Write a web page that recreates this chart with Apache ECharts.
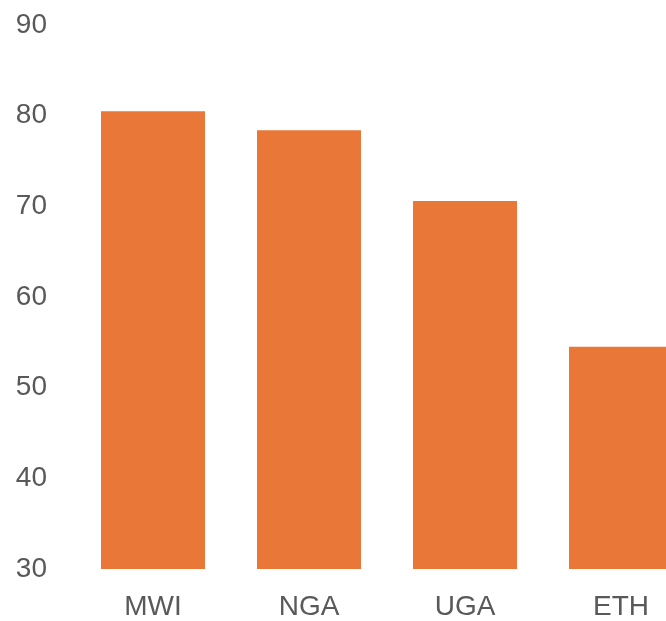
<!DOCTYPE html>
<html>
<head>
<meta charset="utf-8">
<script src="https://cdn.jsdelivr.net/npm/echarts@6/dist/echarts.min.js"></script>
<style>
html,body{margin:0;padding:0;background:#fff;overflow:hidden;}
/* 图表比窗口宽，最后一根柱子被窗口右边截掉 */
#chart{width:699px;height:621px;}
</style>
</head>
<body>
<div id="chart"></div>
<script>
// 国家代码
var countries = ['MWI', 'NGA', 'UGA', 'ETH'];
// 数值
var values = [80.5, 78.4, 70.6, 54.5];
// y轴刻度
var yMin = 30, yMax = 90, yStep = 10;

var myChart = echarts.init(document.getElementById('chart'));
var labelFont = '"Liberation Sans Narrow", "Liberation Sans", Arial, sans-serif';

var option = {
	animation: false,
	grid: {
		left: 75,
		right: 0,
		top: 25,
		bottom: 52,
		containLabel: false
	},
	xAxis: {
		type: 'category',
		data: countries,
		axisLine: { show: false },
		axisTick: { show: false },
		axisLabel: {
			color: '#595959',
			fontSize: 28,
			fontFamily: labelFont,
			margin: 24
		}
	},
	yAxis: {
		type: 'value',
		min: yMin,
		max: yMax,
		interval: yStep,
		axisLine: { show: false },
		axisTick: { show: false },
		splitLine: { show: false },
		axisLabel: {
			color: '#595959',
			fontSize: 28,
			fontFamily: labelFont,
			margin: 28
		}
	},
	series: [{
		type: 'bar',
		data: values,
		barWidth: 104,
		itemStyle: { color: '#E97738' }
	}]
};
myChart.setOption(option);
</script>
</body>
</html>
